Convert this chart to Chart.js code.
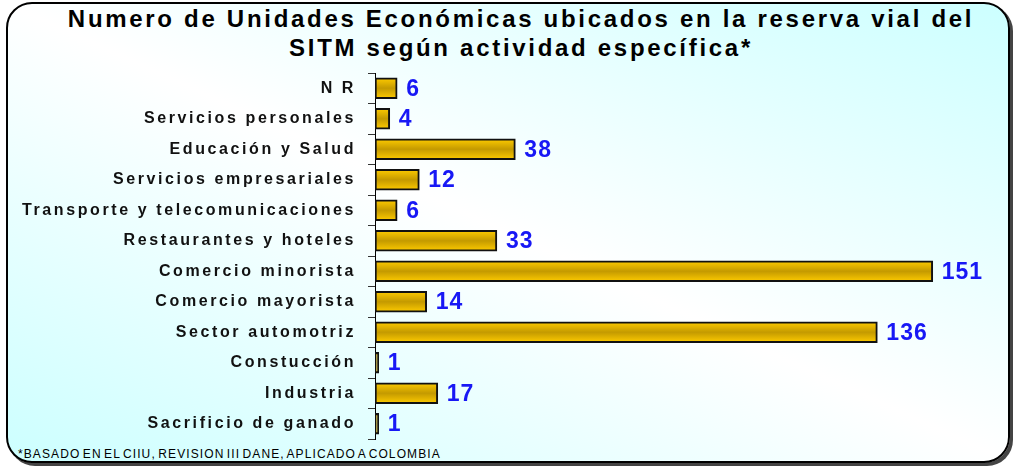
<!DOCTYPE html>
<html>
<head>
<meta charset="utf-8">
<script src="https://cdn.jsdelivr.net/npm/chart.js@4.4.1/dist/chart.umd.min.js"></script>
<style>
  html, body { margin: 0; padding: 0; width: 1016px; height: 467px; overflow: hidden; background: #fff; }
  #frame {
    position: absolute; left: 6px; top: 2px; width: 1000px; height: 457px;
    border: 2px solid #000; border-radius: 26px;
    background: linear-gradient(to top right, #ccffff 0%, #ffffff 50%, #ccffff 100%);
    box-shadow: 3px 3px 0 #444;
  }
  #title {
    position: absolute; left: 0; top: 4px; width: 1042px; text-align: center;
    font: bold 24px "Liberation Sans", Arial, sans-serif; letter-spacing: 2.7px;
    line-height: 29px; color: #000;
  }
  #note {
    position: absolute; left: 18px; top: 447px;
    font: 12px "Liberation Sans", Arial, sans-serif; color: #000;
    letter-spacing: 1.1px; word-spacing: -2px;
  }
  #wrap { position: absolute; left: 0; top: 0; width: 1016px; height: 467px; }
</style>
</head>
<body>
<div id="frame"></div>
<div id="title">Numero de Unidades Económicas ubicados en la reserva vial del<br>SITM según actividad específica*</div>
<div id="note">*BASADO EN EL CIIU, REVISION III DANE, APLICADO A COLOMBIA</div>
<div id="wrap"><canvas id="chart"></canvas></div>
<script>
    // Data
    const categories = [
        'N R',
        'Servicios personales',
        'Educación y Salud',
        'Servicios empresariales',
        'Transporte y telecomunicaciones',
        'Restaurantes y hoteles',
        'Comercio minorista',
        'Comercio mayorista',
        'Sector automotriz',
        'Constucción',
        'Industria',
        'Sacrificio de ganado'
    ];
    const unidades = [6, 4, 38, 12, 6, 33, 151, 14, 136, 1, 17, 1];
    const xMax = 160;

    const BAR_H = 21;

    function goldGradient(ctx, cy) {
        const g = ctx.createLinearGradient(0, cy - BAR_H / 2, 0, cy + BAR_H / 2);
        g.addColorStop(0, '#ffcc00');
        g.addColorStop(0.5, '#c49a00');
        g.addColorStop(1, '#ffcc00');
        return g;
    }

    // tick labels get wide tracking, bars and values less
    const spacingPlugin = {
        id: 'spacing',
        beforeDraw(chart) { chart.ctx.letterSpacing = '2.6px'; },
        beforeDatasetsDraw(chart) {
            chart.ctx.letterSpacing = '0px';
            // one gradient per bar, across its thickness
            chart.getDatasetMeta(0).data.forEach((el) => {
                if (Number.isFinite(el.y) && !Object.isFrozen(el.options)) {
                    el.options.backgroundColor = goldGradient(chart.ctx, el.y);
                }
            });
        }
    };

    const valueLabels = {
        id: 'valueLabels',
        afterDatasetsDraw(chart) {
            const ctx = chart.ctx;
            const meta = chart.getDatasetMeta(0);
            ctx.save();
            ctx.letterSpacing = '1px';
            ctx.font = 'bold 23px "Liberation Sans", Arial, sans-serif';
            ctx.fillStyle = '#1818f5';
            ctx.textAlign = 'left';
            ctx.textBaseline = 'middle';
            meta.data.forEach((el, i) => {
                ctx.fillText(String(unidades[i]), el.x + 9, el.y + 1);
            });
            ctx.restore();
        }
    };

    new Chart(document.getElementById('chart'), {
        type: 'bar',
        data: {
            labels: categories,
            datasets: [{
                data: unidades,
                backgroundColor: (c) => {
                    const y = c.chart.scales.y;
                    if (!y || c.dataIndex === undefined) return '#e0b000';
                    const cy = y.getPixelForValue(c.dataIndex);
                    if (!Number.isFinite(cy)) return '#e0b000';
                    return goldGradient(c.chart.ctx, cy);
                },
                borderColor: '#111',
                borderWidth: 2,
                borderSkipped: false,
                barThickness: BAR_H
            }]
        },
        options: {
            indexAxis: 'y',
            responsive: true,
            maintainAspectRatio: false,
            animation: false,
            layout: { padding: { left: 0, right: 1016 - 966, top: 73, bottom: 28 } },
            plugins: {
                legend: { display: false },
                title: { display: false },
                tooltip: { enabled: false }
            },
            scales: {
                x: {
                    display: false,
                    min: 0,
                    max: xMax
                },
                y: {
                    afterFit(scale) { scale.width = 375; },
                    grid: {
                        display: true,
                        drawOnChartArea: false,
                        drawTicks: true,
                        tickLength: 7,
                        color: '#333'
                    },
                    border: { display: true, color: '#000', width: 1 },
                    ticks: {
                        padding: 12,
                        color: '#111',
                        font: { family: '"Liberation Sans", Arial, sans-serif', size: 16, weight: 'bold' }
                    }
                }
            }
        },
        plugins: [spacingPlugin, valueLabels]
    });
</script>
</body>
</html>
